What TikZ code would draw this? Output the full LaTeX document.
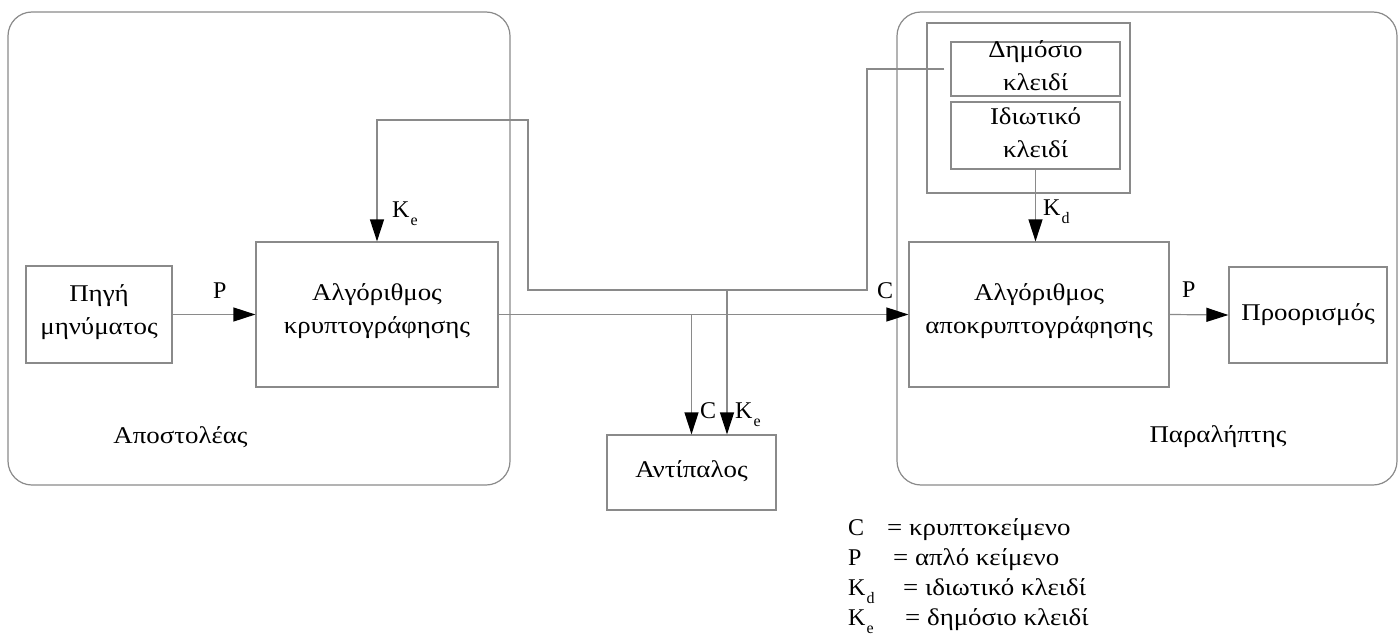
\documentclass[tikz,border=0pt]{standalone}
\usepackage{fontspec}
\setmainfont{Liberation Serif}
\newfontfamily\bodyfont[FakeStretch=1.12]{Liberation Serif}
\usetikzlibrary{arrows.meta}
\definecolor{linegray}{HTML}{8A8A8A}
\newcommand\subsc[1]{\kern1pt\raisebox{-8pt}{\fontsize{16}{16}\selectfont #1}}
\begin{document}
\begin{tikzpicture}[x=1pt,y=-1pt,
  every node/.style={font=\fontsize{24}{33}\selectfont, text=black},
  frame/.style={draw=linegray, line width=1.2pt, rounded corners=24pt},
  blk/.style={draw=linegray, line width=1.2pt, inner sep=0pt},
  txt/.style={align=center, inner sep=0pt, font=\fontsize{24}{33}\selectfont\bodyfont},
  lbl/.style={anchor=base west, inner sep=0pt},
  leg/.style={anchor=base west, inner sep=0pt, font=\fontsize{24}{33}\selectfont\bodyfont},
  wire/.style={draw=linegray, line width=1.2pt},
  arr/.style={wire, -{Triangle[length=22pt, width=14pt, color=black]}}]
\useasboundingbox (0,0) rectangle (1398,637);

% sender and receiver frames
\draw[frame] (8,12) rectangle (510,485);
\draw[frame] (897,12) rectangle (1397,485);

% key store
\draw[blk] (927,23) rectangle (1130,193);

% blocks
\node[blk, minimum width=146pt, minimum height=97pt] (src) at (99,314.5) {};
\node[blk, minimum width=242pt, minimum height=145pt] (enc) at (377,314.5) {};
\node[blk, minimum width=260pt, minimum height=145pt] (dec) at (1039,314.5) {};
\node[blk, minimum width=158pt, minimum height=96pt] (dst) at (1308,315) {};
\node[blk, minimum width=169pt, minimum height=75pt] (adv) at (691.5,472.5) {};
\node[blk, minimum width=169pt, minimum height=54pt] (pub) at (1035.5,69) {};
\node[blk, minimum width=169pt, minimum height=67pt] (priv) at (1035.5,135.5) {};

% block texts
\node[txt] (srct) at ([yshift=2pt]src.center) {Πηγή\\μηνύματος};
\node[txt] (enct) at ([yshift=3.5pt]enc.center) {Αλγόριθμος\\κρυπτογράφησης};
\node[txt] (dect) at ([yshift=3.5pt]dec.center) {Αλγόριθμος\\αποκρυπτογράφησης};
\node[txt] (dstt) at (dst.center) {Προορισμός};
\node[txt] (advt) at ([yshift=1pt]adv.center) {Αντίπαλος};
\node[txt] (pubt) at ([yshift=3pt]pub.center) {Δημόσιο\\κλειδί};
\node[txt] (privt) at ([yshift=2.5pt]priv.center) {Ιδιωτικό\\κλειδί};
\node[txt, anchor=base] (sender) at (180.5,443) {Αποστολέας};
\node[txt, anchor=base] (receiver) at (1218,442) {Παραλήπτης};

% connectors
\draw[arr] (src.east) -- (enc.west);
\draw[arr] (enc.east) -- (dec.west);
\draw[arr] (dec.east) -- (dst.west);
\draw[arr] (priv.south) -- (priv.south |- dec.north);
\draw[arr] ([xshift=-6pt]pub.west) -| (867,290) -| (528,120) -| (enc.north);
\coordinate (kbr) at (727,290);
\coordinate (cbr) at (adv.north |- enc.east);
\draw[arr] (cbr) -- (adv.north);
\draw[arr] (kbr) -- (kbr |- adv.north);

% connector labels
\node[lbl] (lp1) at (213,298) {P};
\node[lbl] (lke1) at (392,217) {K\subsc{e}};
\node[lbl] (lc1) at (877,298) {C};
\node[lbl] (lc2) at (700,418) {C};
\node[lbl] (lke2) at (735,418) {K\subsc{e}};
\node[lbl] (lkd) at (1043,215) {K\subsc{d}};
\node[lbl] (lp2) at (1182,297) {P};

% legend
\node[lbl] (gc) at (848,535) {C};
\node[leg] (gct) at (887,535) {= κρυπτοκείμενο};
\node[lbl] (gp) at (848,565) {P};
\node[leg] (gpt) at (893,565) {= απλό κείμενο};
\node[lbl] (gkd) at (848,595) {K\subsc{d}};
\node[leg] (gkdt) at (903,595) {= ιδιωτικό κλειδί};
\node[lbl] (gke) at (848,625) {K\subsc{e}};
\node[leg] (gket) at (905,625) {= δημόσιο κλειδί};
\end{tikzpicture}
\end{document}
